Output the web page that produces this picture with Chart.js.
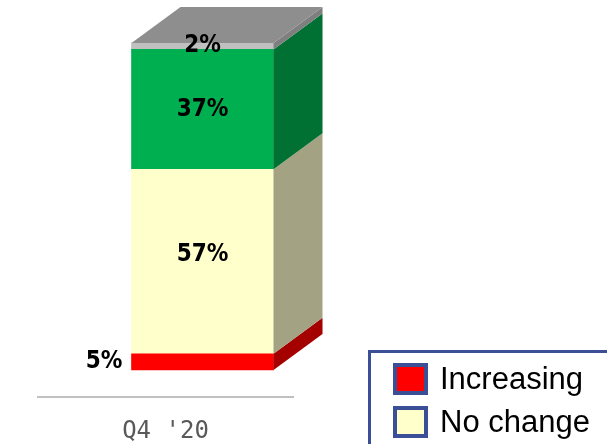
<!DOCTYPE html>
<html lang="en">
<head>
<meta charset="UTF-8">
<title>Q4 '20</title>
<script src="https://cdn.jsdelivr.net/npm/chart.js@4"></script>
<style>
  body { margin: 0; background: #fff; }
  #wrap { width: 607px; height: 444px; }
</style>
</head>
<body>
<div id="wrap"><canvas id="chart" width="607" height="444"></canvas></div>
<script>
const categories = ["Q4 '20"];
const increasing = [5];
const noChange = [57];
const decreasing = [37];
const dontKnow = [2];

const seriesNames = ['Increasing', 'No change', 'Decreasing', "Don't know"];
const frontColors = ['#ff0000', '#ffffcc', '#00b050', '#c0c0c0'];
const sideColors = ['#a50000', '#a3a383', '#007033', '#7f7f7f'];
const topColor = '#8e8e8e';
// small vertical nudge for each value label
const labelNudgeY = [0, -7, 0, 0];

// fake depth of the 3d box
const DEPTH_X = 49;
const DEPTH_Y = 36;
// bars stand a bit behind the floor edge
const SHIFT_X = 37;
const SHIFT_Y = -27;

const labelFont = 'bold 24px "DejaVu Sans Condensed", "DejaVu Sans", sans-serif';

const box3d = {
    id: 'box3d',
    beforeDatasetsDraw(chart) {
        chart.ctx.save();
        chart.ctx.translate(SHIFT_X, SHIFT_Y);
    },
    afterDatasetsDraw(chart) {
        const ctx = chart.ctx;
        const last = chart.data.datasets.length - 1;

        chart.data.datasets.forEach((ds, i) => {
            chart.getDatasetMeta(i).data.forEach(bar => {
                const left = bar.x - bar.width / 2;
                const right = bar.x + bar.width / 2;
                const top = Math.min(bar.y, bar.base);
                const bottom = Math.max(bar.y, bar.base);

                // right side
                ctx.fillStyle = sideColors[i];
                ctx.beginPath();
                ctx.moveTo(right, top);
                ctx.lineTo(right + DEPTH_X, top - DEPTH_Y);
                ctx.lineTo(right + DEPTH_X, bottom - DEPTH_Y);
                ctx.lineTo(right, bottom);
                ctx.closePath();
                ctx.fill();

                // lid on the last segment
                if (i === last) {
                    ctx.fillStyle = topColor;
                    ctx.beginPath();
                    ctx.moveTo(left, top);
                    ctx.lineTo(left + DEPTH_X, top - DEPTH_Y);
                    ctx.lineTo(right + DEPTH_X, top - DEPTH_Y);
                    ctx.lineTo(right, top);
                    ctx.closePath();
                    ctx.fill();
                }
            });
        });

        // value labels
        ctx.font = labelFont;
        ctx.fillStyle = '#000';
        ctx.textBaseline = 'middle';
        chart.data.datasets.forEach((ds, i) => {
            chart.getDatasetMeta(i).data.forEach((bar, j) => {
                const text = ds.data[j] + '%';
                const midY = (bar.y + bar.base) / 2 + labelNudgeY[i];
                if (i === 0) {
                    ctx.textAlign = 'right';
                    ctx.fillText(text, bar.x - bar.width / 2 - 9, midY);
                } else {
                    ctx.textAlign = 'center';
                    ctx.fillText(text, bar.x, midY);
                }
            });
        });

        ctx.restore();
    }
};

const boxLegend = {
    id: 'boxLegend',
    afterDraw(chart) {
        const ctx = chart.ctx;
        ctx.save();
        ctx.strokeStyle = '#3b4f96';
        ctx.lineWidth = 3;
        ctx.strokeRect(369.5, 351.5, 400, 200);

        ctx.font = '31px "Liberation Sans", Arial, sans-serif';
        ctx.textBaseline = 'middle';
        ctx.textAlign = 'left';
        chart.data.datasets.forEach((ds, i) => {
            const y = 365 + i * 43;
            ctx.fillStyle = ds.backgroundColor;
            ctx.fillRect(395, y, 31, 28);
            ctx.lineWidth = 4;
            ctx.strokeRect(395, y, 31, 28);
            ctx.fillStyle = '#000';
            ctx.fillText(ds.label, 440, y + 15);
        });
        ctx.restore();
    }
};

new Chart(document.getElementById('chart'), {
    type: 'bar',
    data: {
        labels: categories,
        datasets: [
            { label: seriesNames[0], data: increasing, backgroundColor: frontColors[0] },
            { label: seriesNames[1], data: noChange, backgroundColor: frontColors[1] },
            { label: seriesNames[2], data: decreasing, backgroundColor: frontColors[2] },
            { label: seriesNames[3], data: dontKnow, backgroundColor: frontColors[3] }
        ]
    },
    options: {
        responsive: false,
        animation: false,
        layout: { padding: { left: 38, right: 314, top: 8.4, bottom: 0 } },
        datasets: { bar: { barThickness: 142, borderWidth: 0, clip: false } },
        scales: {
            x: {
                stacked: true,
                grid: { display: false },
                border: { display: true, color: '#c0c0c0', width: 2 },
                ticks: {
                    color: '#595959',
                    font: { family: '"DejaVu Sans Mono", monospace', size: 24 },
                    padding: 12,
                    maxRotation: 0
                },
                afterFit(scale) { scale.height = 47; }
            },
            y: { stacked: true, display: false, min: 0, max: 120 }
        },
        plugins: {
            legend: { display: false },
            tooltip: { enabled: false }
        }
    },
    plugins: [box3d, boxLegend]
});
</script>
</body>
</html>
